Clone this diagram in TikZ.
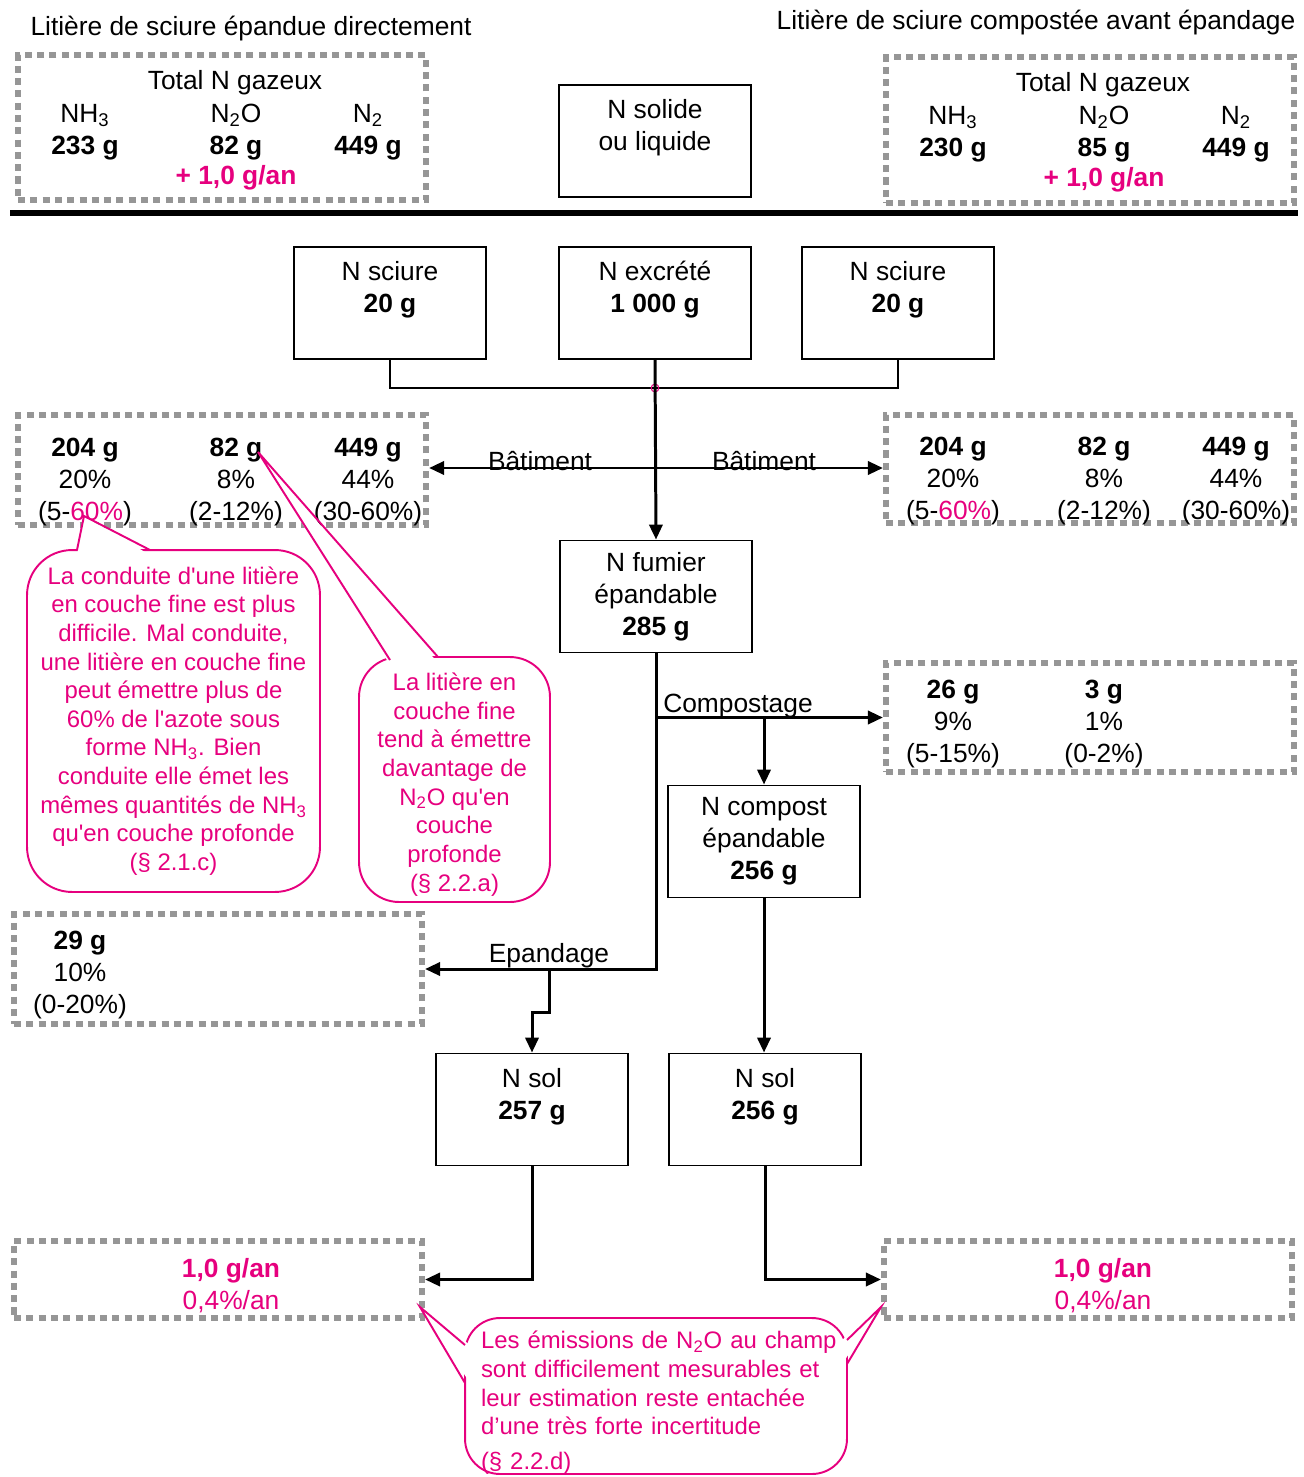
\documentclass[tikz,border=0pt]{standalone}
\usepackage{fontspec}
\setmainfont{Liberation Sans}
\usetikzlibrary{positioning,calc,arrows.meta}
\definecolor{rose}{RGB}{230,0,126}
\definecolor{grisbord}{RGB}{150,150,150}

\begin{document}
\begin{tikzpicture}
  [x=0.02cm,y=-0.02cm,>={Triangle[length=8.5pt,width=7.5pt]},
   txt/.style={align=center,font=\fontsize{15}{18.1}\selectfont,inner sep=0pt},
   box/.style={draw,line width=1.1pt,minimum width=3.84cm,minimum height=2.24cm,align=center,
               font=\fontsize{15}{18.1}\selectfont,inner sep=0pt},
   gaz/.style={draw=grisbord,line width=3.6pt,dash pattern=on 4pt off 3pt,minimum width=8.16cm,inner sep=0pt},
   flux/.style={line width=1.7pt},
   bulle/.style={draw=rose,line width=1.1pt,align=center,text=rose,
                 font=\fontsize{13.6}{16.3}\selectfont,inner sep=0pt},
   pointe/.style={draw=rose,line width=1.1pt}]

  \useasboundingbox (0,0) rectangle (1303,1477);

  % titres
  \node[txt] (titreG) at (251,29) {Litière de sciure épandue directement};
  \node[txt] (titreD) at (1036,23) {Litière de sciure compostée avant épandage};

  % emissions totales
  \node[gaz,minimum height=2.9cm] (totG) at (222,127.5) {};
  \node[txt] (totGt) at (235,83) {Total N gazeux};
  \node[txt] (totG1) at (85,132) {NH\textsubscript{3}\\\textbf{233 g}};
  \node[txt] (totG2) at (236,132) {N\textsubscript{2}O\\\textbf{82 g}};
  \node[txt] (totG3) at (368,132) {N\textsubscript{2}\\\textbf{449 g}};
  \node[txt,text=rose] (totG4) at (236,178) {\textbf{+ 1,0 g/an}};

  \node[gaz,minimum height=2.92cm] (totD) at (1090,130) {};
  \node[txt] (totDt) at (1103,85) {Total N gazeux};
  \node[txt] (totD1) at (953,134) {NH\textsubscript{3}\\\textbf{230 g}};
  \node[txt] (totD2) at (1104,134) {N\textsubscript{2}O\\\textbf{85 g}};
  \node[txt] (totD3) at (1236,134) {N\textsubscript{2}\\\textbf{449 g}};
  \node[txt,text=rose] (totD4) at (1104,180) {\textbf{+ 1,0 g/an}};

  \node[box] (solide) at (655,141) {N solide\\ou liquide\\~};
  \draw[line width=3.4pt] (10,213) -- (1298,213);

  % entrees
  \node[box] (sciureG) at (390,303) {N sciure\\\textbf{20 g}\\~};
  \node[box] (exc) at (655,303) {N excrété\\\textbf{1 000 g}\\~};
  \node[box] (sciureD) at (898,303) {N sciure\\\textbf{20 g}\\~};

  \coordinate (junc) at (655,388);
  \draw[line width=1.1pt] (sciureG.south) |- (junc) -| (sciureD.south);
  \draw[rose,line width=0.6pt] (junc) circle[radius=2.2pt];

  % batiment
  \node[gaz,minimum height=2.2cm] (batG) at (222,470) {};
  \node[txt] (batG1) at (85,482) {\textbf{204 g}\\20\%\\(5-\textcolor{rose}{60\%})};
  \node[txt] (batG2) at (236,482) {\textbf{82 g}\\8\%\\(2-12\%)};
  \node[txt] (batG3) at (368,482) {\textbf{449 g}\\44\%\\(30-60\%)};

  \node[gaz,minimum height=2.16cm] (batD) at (1090,469) {};
  \node[txt] (batD1) at (953,481) {\textbf{204 g}\\20\%\\(5-\textcolor{rose}{60\%})};
  \node[txt] (batD2) at (1104,481) {\textbf{82 g}\\8\%\\(2-12\%)};
  \node[txt] (batD3) at (1236,481) {\textbf{449 g}\\44\%\\(30-60\%)};

  \node[box] (fumier) at (656,596.5) {N fumier\\épandable\\\textbf{285 g}};

  \coordinate (bat) at (655,468);
  \draw[flux,->] (exc.south) -- (fumier.north);
  \draw[flux,->] (bat) -- (bat -| batG.east);
  \draw[flux,->] (bat) -- (bat -| batD.west);
  \node[txt] (labBatG) at (540,461) {Bâtiment};
  \node[txt] (labBatD) at (764,461) {Bâtiment};

  % compostage
  \node[gaz,minimum height=2.18cm] (compD) at (1090,717.5) {};
  \node[txt] (compD1) at (953,724) {\textbf{26 g}\\9\%\\(5-15\%)};
  \node[txt] (compD2) at (1104,724) {\textbf{3 g}\\1\%\\(0-2\%)};
  \node[box] (compost) at (764,841.5) {N compost\\épandable\\\textbf{256 g}};

  \draw[flux,->] (fumier.south |- compD.west) -- (compD.west);
  \draw[flux,->] (compost.north |- compD.west) -- (compost.north);
  \node[txt] (labComp) at (738,706) {Compostage};

  % epandage
  \node[gaz,minimum height=2.2cm] (epaG) at (218,969) {};
  \node[txt] (epaG1) at (80,975) {\textbf{29 g}\\10\%\\(0-20\%)};
  \node[box] (solG) at (532,1109.5) {N sol\\\textbf{257 g}\\~};
  \node[box] (solD) at (765,1109.5) {N sol\\\textbf{256 g}\\~};

  \coordinate (epa) at (549,969);
  \draw[flux,->] (fumier.south) |- (epaG.east);
  \draw[flux,->] (epa) -- ++(0,43) -| (solG.north);
  \draw[flux,->] (compost.south) -- (compost.south |- solD.north);
  \node[txt] (labEpa) at (549,956) {Epandage};

  % sol
  \node[gaz,minimum height=1.54cm] (champG) at (218,1279.5) {};
  \node[txt,text=rose] (champG1) at (231,1286) {\textbf{1,0 g/an}\\0,4\%/an};
  \node[gaz,minimum height=1.54cm] (champD) at (1088,1279.5) {};
  \node[txt,text=rose] (champD1) at (1103,1286) {\textbf{1,0 g/an}\\0,4\%/an};
  \draw[flux,->] (solG.south) |- (champG.east);
  \draw[flux,->] (solD.south) |- (champD.west);

  % bulles
  \node[bulle,rounded corners=0.9cm,minimum width=5.86cm,minimum height=6.84cm] (noteNH) at (173.5,721)
    {La conduite d\textquotesingle une litière\\en couche fine est plus\\difficile. Mal conduite,\\une litière en couche fine\\peut émettre plus de\\60\% de l\textquotesingle azote sous\\forme NH\textsubscript{3}. Bien\\conduite elle émet les\\mêmes quantités de NH\textsubscript{3}\\qu\textquotesingle en couche profonde\\(\S~2.1.c)};
  \coordinate (tipNH) at (84,516);
  \fill[white] (tipNH) -- (77,555) -- (150,555) -- cycle;
  \draw[pointe] (77,550) -- (tipNH) -- (150,550);

  \node[bulle,rounded corners=0.8cm,minimum width=3.82cm,minimum height=4.9cm] (noteNO) at (454.5,779.5) {};
  \node[bulle,draw=none] (noteNOt) at (454.5,784.5)
    {La litière en\\couche fine\\tend à émettre\\davantage de\\N\textsubscript{2}O qu\textquotesingle en\\couche\\profonde\\(\S~2.2.a)};
  \coordinate (tipNO) at (258,452);
  \fill[white] (tipNO) -- (390,665) -- (438,663) -- cycle;
  \draw[pointe] (390,660) -- (tipNO) -- (438,657);

  \node[bulle,rounded corners=0.7cm,minimum width=7.64cm,minimum height=3.12cm] (noteCh) at (656,1396) {};
  \node[bulle,draw=none,text width=7cm,align=left] (noteCht) at (656,1403)
    {\mbox{Les émissions de N\textsubscript{2}O au champ}\\sont difficilement mesurables et\\leur estimation reste entachée\\d’une très forte incertitude\\[3.5pt](\S~2.2.d)};
  \coordinate (tipChG) at (420,1307);
  \coordinate (tipChD) at (881,1307);
  \fill[white] (tipChG) -- (470,1345) -- (470,1383) -- cycle;
  \draw[pointe] (465,1345) -- (tipChG) -- (465,1383);
  \fill[white] (tipChD) -- (842,1340) -- (842,1364) -- cycle;
  \draw[pointe] (847,1340) -- (tipChD) -- (847,1364);

\end{tikzpicture}
\end{document}
